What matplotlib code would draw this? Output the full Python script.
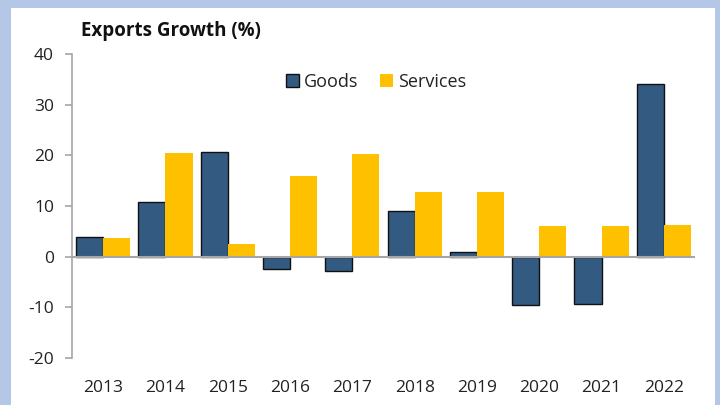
import matplotlib
matplotlib.use("Agg")
import matplotlib.pyplot as plt
import matplotlib.patches as mpatches
import numpy as np

years = ["2013", "2014", "2015", "2016", "2017", "2018", "2019", "2020", "2021", "2022"]
goods = [3.8, 10.7, 20.7, -2.4, -2.8, 9.0, 1.0, -9.6, -9.4, 34.1]
services = [3.6, 20.4, 2.5, 16.0, 20.3, 12.8, 12.8, 6.1, 6.1, 6.3]
yticks = [-20, -10, 0, 10, 20, 30, 40]

plt.rcParams['font.family'] = ['Open Sans', 'DejaVu Sans']

fig = plt.figure(figsize=(7.2, 4.05), dpi=100, facecolor="#B4C7E7")
fig.patches.append(mpatches.Rectangle((11/720, 0), (715-11)/720, 1 - 8/405,
                                      transform=fig.transFigure, facecolor="white",
                                      edgecolor="none", zorder=-10))

ax = fig.add_axes([72/720, 1 - 358/405, (695-72)/720, (358-54)/405])
ax.set_facecolor("none")

x = np.arange(len(years))
w = 0.435
ax.bar(x - w/2, goods, width=w, color="#335A80", edgecolor="#111111", linewidth=1.0,
       label="Goods", zorder=3)
ax.bar(x + w/2, services, width=w, color="#FFC000", edgecolor="none",
       label="Services", zorder=3)

ax.axhline(0, color="#A6A6A6", linewidth=1.5, zorder=4)
ax.set_xlim(-0.5, len(years) - 0.5)
ax.set_ylim(-20, 40)
ax.set_yticks(yticks)
ax.set_yticklabels([str(t) for t in yticks], fontsize=12.5, color="#222222")
ax.set_xticks(x)
ax.set_xticklabels(years, fontsize=12.5, color="#222222")
ax.tick_params(axis='x', length=0, pad=16)
ax.tick_params(axis='y', length=5, width=1.2, color="#A6A6A6", pad=8)

for s in ["top", "right", "bottom"]:
    ax.spines[s].set_visible(False)
ax.spines["left"].set_color("#A6A6A6")
ax.spines["left"].set_linewidth(1.2)

fig.text(81/720, 1 - 31/405, "Exports Growth (%)", fontsize=13.5, fontweight="bold",
         color="#111111", va="center", ha="left")

leg = fig.legend(loc="center", bbox_to_anchor=(376/720, 1 - 82/405), ncol=2,
                 frameon=False, fontsize=13, handlelength=0.7, handleheight=0.7,
                 handletextpad=0.3, columnspacing=1.2)
for t in leg.get_texts():
    t.set_color("#222222")

fig.savefig("out.png", dpi=100, facecolor=fig.get_facecolor())
